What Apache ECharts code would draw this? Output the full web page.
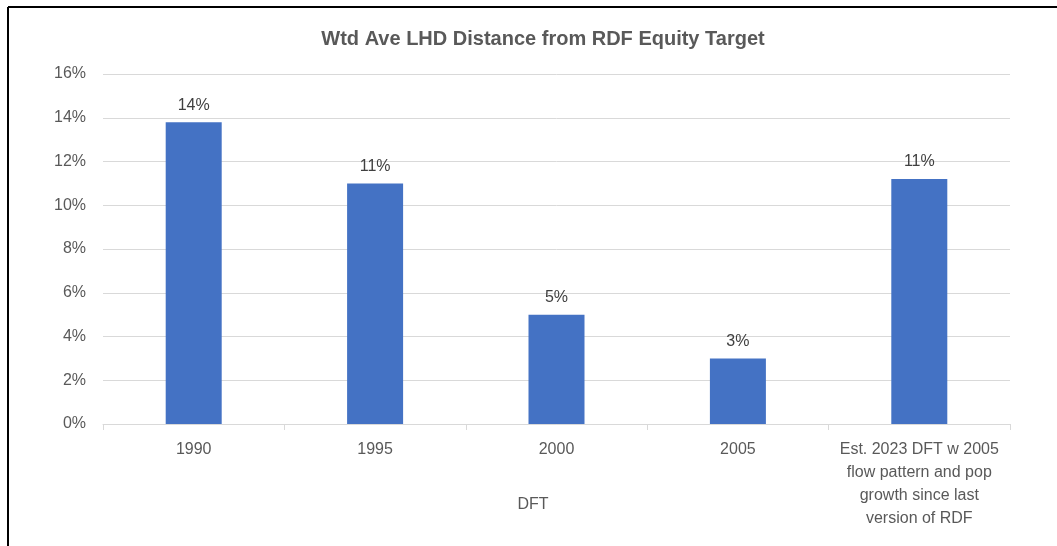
<!DOCTYPE html>
<html><head><meta charset="utf-8">
<script src="https://cdn.jsdelivr.net/npm/echarts@6/dist/echarts.min.js"></script>
<style>html,body{margin:0;padding:0;background:#fff}#c{width:1057px;height:546px}</style>
</head><body><div id="c"></div>
<script>
const title = 'Wtd Ave LHD Distance from RDF Equity Target';
const categories = ['1990', '1995', '2000', '2005', 'Est. 2023 DFT w 2005\nflow pattern and pop\ngrowth since last\nversion of RDF'];
const values = [13.8, 11.0, 5.0, 3.0, 11.2];
const groupLabel = 'DFT';
const yTicks = {min: 0, max: 16, interval: 2};

const FONT = 'Liberation Sans';
const chart = echarts.init(document.getElementById('c'));
chart.setOption({
  animation: false,
  backgroundColor: '#fff',
  textStyle: {fontFamily: FONT},
  title: {text: title, left: 538, textAlign: 'center', top: 24,
    textStyle: {fontFamily: FONT, fontSize: 20, fontWeight: 'bold', color: '#595959'}},
  grid: {left: 103, right: 47, top: 74, bottom: 122, containLabel: false},
  xAxis: {type: 'category', data: categories,
    axisLine: {lineStyle: {color: '#d9d9d9', width: 1}},
    axisTick: {show: true, length: 6, lineStyle: {color: '#d9d9d9'}},
    axisLabel: {color: '#595959', fontSize: 16, fontFamily: FONT, margin: 14, lineHeight: 23, interval: 0}},
  yAxis: {type: 'value', min: yTicks.min, max: yTicks.max, interval: yTicks.interval,
    axisLine: {show: false}, axisTick: {show: false},
    splitLine: {lineStyle: {color: '#d9d9d9', width: 1}},
    axisLabel: {color: '#595959', fontSize: 16, fontFamily: FONT, margin: 17, formatter: v => v + '%'}},
  series: [{type: 'bar', data: values, barWidth: 56,
    itemStyle: {color: '#4472c4'},
    label: {show: true, position: 'top', distance: 9, color: '#404040', fontSize: 16, fontFamily: FONT,
      formatter: p => Math.round(p.value) + '%'}}],
  graphic: [
    {type: 'line', shape: {x1: 8, y1: 7, x2: 1057, y2: 7}, style: {stroke: '#000', lineWidth: 2}},
    {type: 'line', shape: {x1: 8, y1: 7, x2: 8, y2: 546}, style: {stroke: '#000', lineWidth: 2}},
    {type: 'text', x: 533, y: 505, style: {text: groupLabel, fill: '#595959', font: '16px "' + FONT + '"', textAlign: 'center', textVerticalAlign: 'middle'}}
  ]
});
</script></body></html>
